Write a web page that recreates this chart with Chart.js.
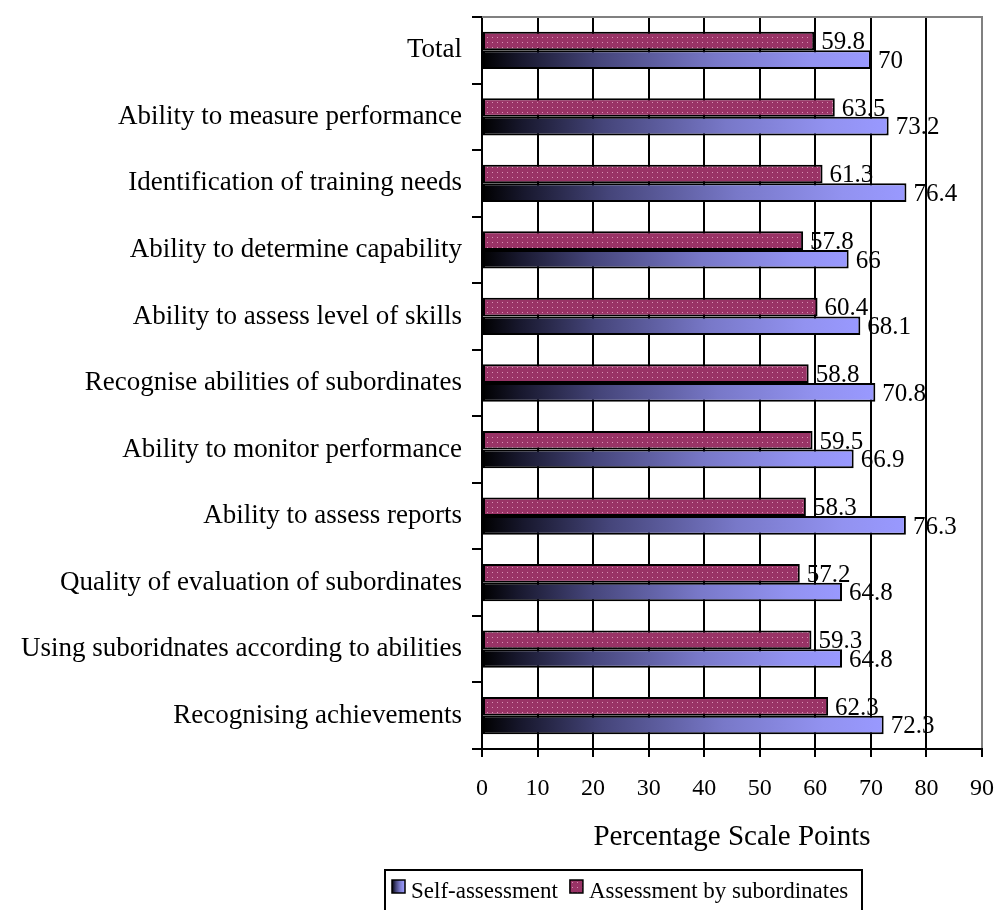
<!DOCTYPE html>
<html>
<head>
<meta charset="utf-8">
<script src="https://cdn.jsdelivr.net/npm/chart.js@4"></script>
<style>
  body { margin: 0; background: #fff; }
</style>
</head>
<body>
<canvas id="bar-chart" width="1005" height="910"></canvas>
<script>
const categories = ['Total', 'Ability to measure performance', 'Identification of training needs',
    'Ability to determine capability', 'Ability to assess level of skills', 'Recognise abilities of subordinates',
    'Ability to monitor performance', 'Ability to assess reports', 'Quality of evaluation of subordinates',
    'Using suboridnates according to abilities', 'Recognising achievements']
const bySubordinates = [59.8, 63.5, 61.3, 57.8, 60.4, 58.8, 59.5, 58.3, 57.2, 59.3, 62.3]
const selfAssessment = [70, 73.2, 76.4, 66, 68.1, 70.8, 66.9, 76.3, 64.8, 64.8, 72.3]
const xTicks = [0, 10, 20, 30, 40, 50, 60, 70, 80, 90]

const FONT = 'Liberation Serif'

// dotted maroon fill
function makeDots(){
    let c = document.createElement('canvas')
    c.width = 5; c.height = 5
    let g = c.getContext('2d')
    g.fillStyle = '#993366'
    g.fillRect(0, 0, 5, 5)
    g.fillStyle = '#d890b4'
    g.fillRect(2, 2, 1, 1)
    return g.createPattern(c, 'repeat')
}

function purpleFade(g, x0, x1){
    let grad = g.createLinearGradient(x0, 0, x1, 0)
    grad.addColorStop(0, '#000000')
    grad.addColorStop(0.1, '#18182e')
    grad.addColorStop(0.3, '#45457a')
    grad.addColorStop(0.6, '#7878c8')
    grad.addColorStop(0.85, '#9292f0')
    grad.addColorStop(1, '#9999ff')
    return grad
}

const canvas = document.getElementById('bar-chart')
const dots = makeDots()

// value labels at the end of every bar
const barLabels = {
    id: 'barLabels',
    afterDatasetsDraw(chart){
        let g = chart.ctx
        g.save()
        g.font = '25px "' + FONT + '"'
        g.fillStyle = '#000'
        g.textAlign = 'left'
        g.textBaseline = 'alphabetic'
        chart.data.datasets.forEach((ds, i) => {
            chart.getDatasetMeta(i).data.forEach((bar, j) => {
                g.fillText(String(ds.data[j]), bar.x + 7, bar.y + bar.height / 2 - 1)
            })
        })
        g.restore()
    }
}

// gray top edge of the plot plus the boxed legend underneath
const frame = {
    id: 'frame',
    afterDraw(chart){
        let g = chart.ctx
        let a = chart.chartArea
        g.save()
        g.strokeStyle = '#808080'
        g.lineWidth = 2
        g.beginPath()
        g.moveTo(a.left, a.top)
        g.lineTo(a.right + 1, a.top)
        g.stroke()

        // legend
        let lx = 385, ly = 870, lw = 477, lh = 50
        g.strokeStyle = '#000'
        g.lineWidth = 2
        g.strokeRect(lx, ly, lw, lh)
        g.font = '23px "' + FONT + '"'
        g.textBaseline = 'alphabetic'

        let items = [
            { text: 'Self-assessment', fill: purpleFade(g, 392, 405) },
            { text: 'Assessment by subordinates', fill: dots }
        ]
        let x = 392
        items.forEach(it => {
            g.fillStyle = it.fill
            g.fillRect(x, 880, 13, 13)
            g.strokeStyle = '#000'
            g.lineWidth = 1.5
            g.strokeRect(x, 880, 13, 13)
            g.fillStyle = '#000'
            g.fillText(it.text, x + 19, 898)
            x += 19 + g.measureText(it.text).width + 12
        })
        g.restore()
    }
}

new Chart(canvas, {
    type: 'bar',
    data: {
        labels: categories,
        datasets: [
            {
                label: 'Assessment by subordinates',
                data: bySubordinates,
                backgroundColor: dots,
                borderColor: '#000',
                borderWidth: 2,
                borderSkipped: false,
                categoryPercentage: 0.56,
                barPercentage: 1
            },
            {
                label: 'Self-assessment',
                data: selfAssessment,
                backgroundColor: ctx => {
                    let chart = ctx.chart
                    if (!chart.chartArea || ctx.type !== 'data') return '#9999ff'
                    let x = chart.scales.x
                    return purpleFade(chart.ctx, x.getPixelForValue(0), x.getPixelForValue(ctx.parsed.x))
                },
                borderColor: '#000',
                borderWidth: 2,
                borderSkipped: false,
                categoryPercentage: 0.56,
                barPercentage: 1
            }
        ]
    },
    options: {
        indexAxis: 'y',
        responsive: false,
        animation: false,
        layout: { padding: { top: 17, right: 23, left: 0, bottom: 0 } },
        plugins: {
            legend: { display: false },
            tooltip: { enabled: false }
        },
        scales: {
            x: {
                min: 0,
                max: 90,
                afterBuildTicks: axis => { axis.ticks = xTicks.map(v => ({ value: v })) },
                afterFit: axis => {
                    axis.height = 161
                    axis.paddingLeft = 0
                    axis.paddingRight = 0
                },
                border: { color: '#000', width: 2 },
                grid: {
                    color: ctx => ctx.tick && ctx.tick.value === 90 ? '#808080' : '#000',
                    lineWidth: 2,
                    tickColor: '#000',
                    tickLength: 8
                },
                ticks: {
                    color: '#000',
                    padding: 17,
                    font: { family: FONT, size: 24 }
                },
                title: {
                    display: true,
                    text: 'Percentage Scale Points',
                    color: '#000',
                    font: { family: FONT, size: 29 },
                    padding: { bottom: 55 }
                }
            },
            y: {
                afterFit: axis => {
                    axis.width = 482
                    axis.paddingTop = 0
                    axis.paddingBottom = 0
                },
                border: { color: '#000', width: 2 },
                grid: {
                    drawOnChartArea: false,
                    offset: true,
                    color: '#000',
                    lineWidth: 2,
                    tickLength: 10
                },
                ticks: {
                    color: '#000',
                    padding: 10,
                    font: { family: FONT, size: 27 }
                }
            }
        }
    },
    plugins: [barLabels, frame]
})
</script>
</body>
</html>
